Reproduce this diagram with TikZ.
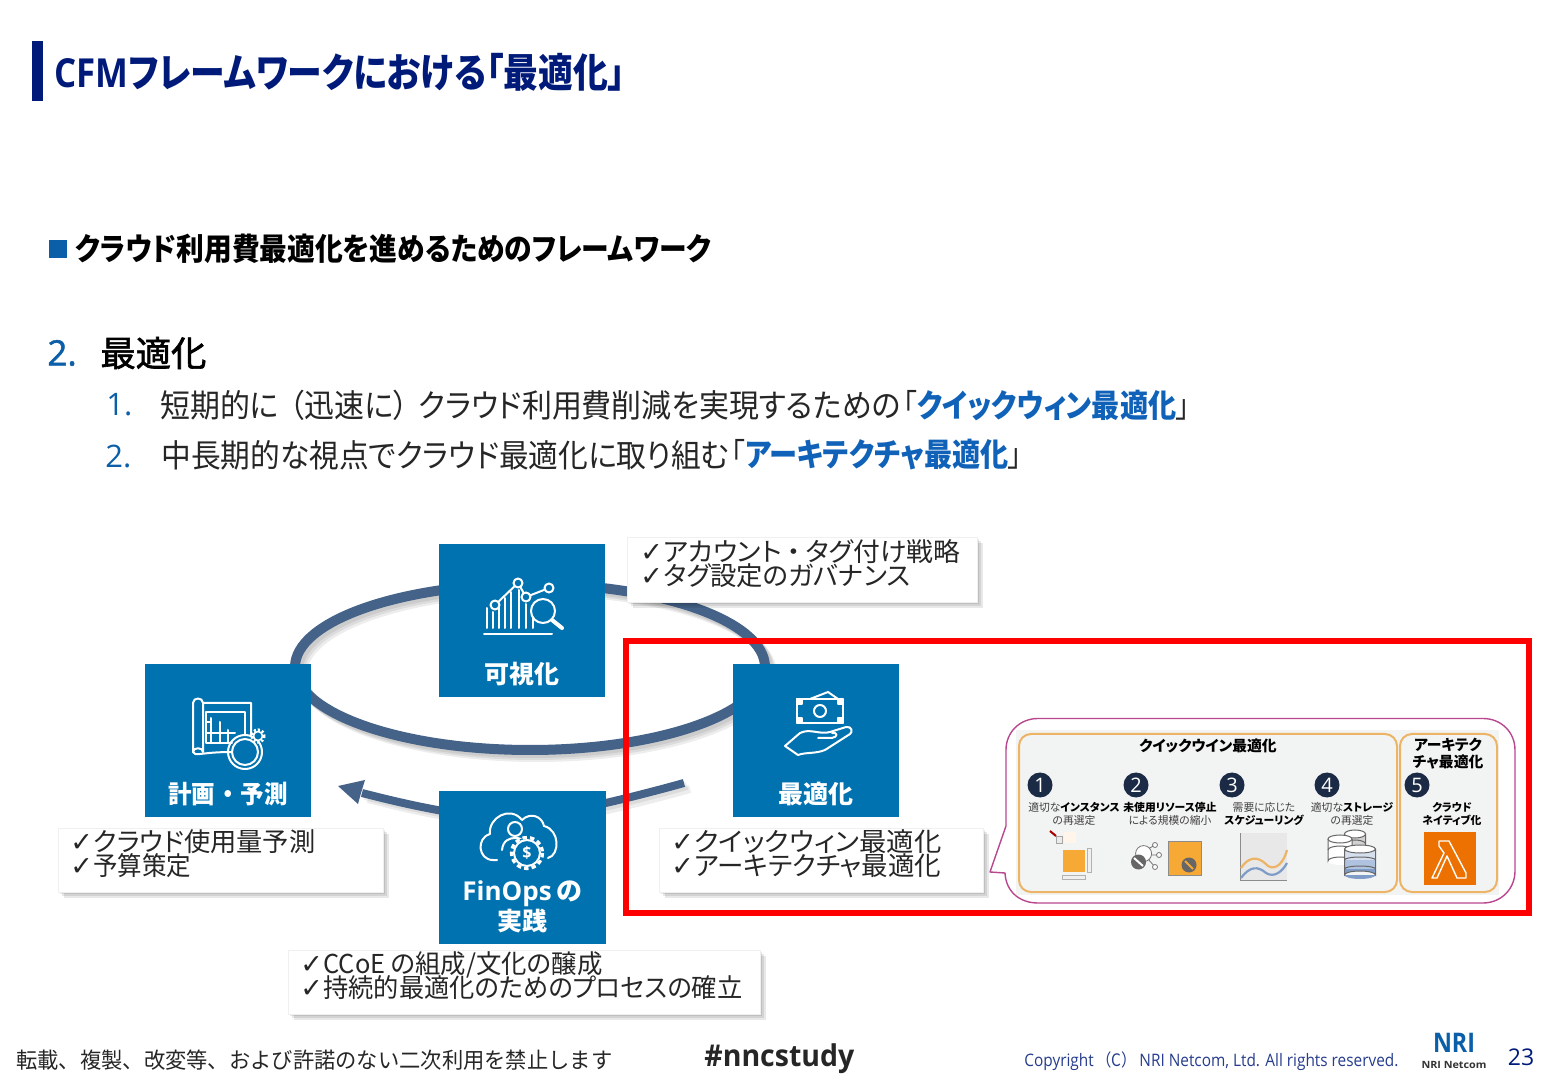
\documentclass[tikz,border=0pt]{standalone}
\usepackage{graphicx}
\usepackage{fontspec}
\setmainfont{Noto Sans CJK JP}[RawFeature=+palt]
\newfontfamily\nop{Noto Sans CJK JP}
\newfontfamily\mb{Noto Sans CJK JP}[RawFeature=+palt,FakeBold=1.8]
\newfontfamily\lat{Open Sans}
\newfontfamily\latm{Open Sans}[FakeBold=1.5]
\newfontfamily\chk{DejaVu Sans}
\usetikzlibrary{calc}
\definecolor{navy}{HTML}{001A7A}
\definecolor{boxblue}{HTML}{0072B0}
\definecolor{headblue}{HTML}{0F62B8}
\definecolor{numblue}{HTML}{0B5EA8}
\definecolor{ringblue}{HTML}{456389}
\definecolor{orangeline}{HTML}{EDB466}
\definecolor{orangefill}{HTML}{F7A935}
\definecolor{bubble}{HTML}{B9478F}
\definecolor{dark}{HTML}{1C2B45}
\definecolor{panel}{HTML}{F2F3F3}
\definecolor{lamb}{HTML}{ED7100}
\definecolor{dbone}{HTML}{D5DFEE}
\definecolor{dbtwo}{HTML}{AFC3E0}
\definecolor{dbthree}{HTML}{7F9CC8}
\newdimen\pxu \pxu=0.5pt
\newcommand{\fs}[1]{\fontsize{#1}{#1}\selectfont}
\newcommand{\fw}[2]{\resizebox{#1\pxu}{\height}{#2}}
\newcommand{\ck}{\makebox[11.5pt][l]{\chk\fs{13.5}✓}}
\newcommand{\dbcyl}[6]{% cx, top, rx, height, col1, col2
  \fill[#5] (#1-#3,#2) rectangle (#1+#3,#2+#4);
  \fill[#5] (#1,#2+#4) ellipse [x radius=#3,y radius=4];
  \draw[black!60,line width=.5pt] (#1-#3,#2) -- (#1-#3,#2+#4) arc [start angle=180,end angle=360,x radius=#3,y radius=4] -- (#1+#3,#2);
  \draw[black!60,line width=.5pt] (#1-#3,#2+#4/2) arc [start angle=180,end angle=360,x radius=#3,y radius=4];
  \draw[black!60,line width=.5pt,fill=#6] (#1,#2) ellipse [x radius=#3,y radius=4];
}
\tikzset{
  txt/.style={inner sep=0pt,anchor=west,text=black},
  ctxt/.style={inner sep=0pt,anchor=center},
  stage/.style={fill=boxblue,draw=none},
  stagetxt/.style={ctxt,text=white,font=\bfseries\fs{12.5}},
  note/.style={fill=white,draw=black!6,line width=.3pt},
  notetxt/.style={txt,text=black!85,font=\fs{13}},
  ringline/.style={draw=ringblue,line width=5pt},
  ringshade/.style={draw=black,line width=5pt,opacity=.07},
  ico/.style={draw=white,line width=1pt,line join=round,line cap=round},
  mini/.style={ctxt,text=black!75,font=\fs{5.4}},
  minib/.style={ctxt,text=black,font=\bfseries\fs{7.4}},
  numdot/.style={circle,fill=dark,text=white,inner sep=0pt,minimum size=12.5pt,font=\lat\fs{10}},
  orangebox/.style={draw=orangeline,line width=1pt,rounded corners=6pt},
}
\begin{document}
\begin{tikzpicture}[x=0.5pt,y=-0.5pt]
\useasboundingbox (0,0) rectangle (1560,1080);
\fill[white] (0,0) rectangle (1560,1080);
% title
\fill[navy] (32,41) rectangle (43,101);
\node[txt,text=navy,font=\bfseries\fs{20}] (title) at (54,72) {\fw{571}{{\lat\bfseries CFM}フレームワークにおける「最適化」}};
\fill[numblue] (49,240) rectangle (67,258);
\node[txt,font=\bfseries\fs{15.5}] (sub) at (75,249) {\fw{636}{クラウド利用費最適化を進めるためのフレームワーク}};
\node[txt,text=numblue,font=\latm\fs{17.5}] (n2) at (47,353) {2.};
\node[txt,font=\mb\fs{17.5}] (h2) at (100,353) {\fw{106}{最適化}};
\node[txt,text=numblue,font=\lat\fs{15.5}] (n21) at (106,405) {1.};
\node[txt,text=black!85,font=\fs{16}] (l1) at (160,405) {\fw{740}{短期的に\hspace{.35em}（迅速に）\hspace{.35em}クラウド利用費削減を実現するための}};
\node[txt,text=black!85,font=\fs{16}] (l1b) at (903,405) {\fw{287}{「\textcolor{headblue}{\bfseries クイックウィン最適化}」}};
\node[txt,text=numblue,font=\lat\fs{15.5}] (n22) at (105,456) {2.};
\node[txt,text=black!85,font=\fs{16}] (l2) at (161,455) {\fw{568}{中長期的な視点でクラウド最適化に取り組む}};
\node[txt,text=black!85,font=\fs{16}] (l2b) at (731,455) {\fw{291}{「\textcolor{headblue}{\bfseries アーキテクチャ最適化}」}};
% ring shadow and ring
\foreach \d in {3,5,7}{
  \draw[ringshade,shift={(\d*0.5pt,-\d*0.5pt)}] (530,667) ellipse [x radius=235,y radius=83];
}
\draw[ringline] (530,667) ellipse [x radius=235,y radius=83];
% arrow
\foreach \d in {3,6}{
  \draw[ringshade,line width=4pt,shift={(\d*0.5pt,-\d*0.5pt)}] (684,783) .. controls (630,798) and (560,815) .. (522,818) .. controls (480,820) and (420,808) .. (362,793);
}
\draw[ringline,line width=4pt] (684,783) .. controls (630,798) and (560,815) .. (522,818) .. controls (480,820) and (420,808) .. (362,793);
\fill[ringblue] (338,786) -- (365,780) -- (361,793) -- (358,804) -- cycle;
% stages
\node[stage,minimum width=83pt,minimum height=76.5pt,inner sep=0pt] (vis) at (522,620.5) {};
\node[stage,minimum width=83pt,minimum height=76.5pt,inner sep=0pt] (plan) at (228,740.5) {};
\node[stage,minimum width=83pt,minimum height=76.5pt,inner sep=0pt] (opt) at (816,740.5) {};
\node[stage,minimum width=83.5pt,minimum height=76.5pt,inner sep=0pt] (fin) at (522.5,867.5) {};
\node[stagetxt] (tvis) at (522,674) {可視化};
\node[stagetxt] (tplan) at (228,794) {\fw{120}{計画\hspace{.3em}・\hspace{.3em}予測}};
\node[stagetxt] (topt) at (816,794) {最適化};
\node[stagetxt,font=\bfseries\lat\fs{13}] (tfin) at (522,894) {FinOps\,{\rmfamily\bfseries の}};
\node[stagetxt] (tfin2) at (522,921) {実践};
% icon: visual
\draw[ico] (484,634) -- (552,634);
\draw[ico] (487,628) -- (487,608) (493,628) -- (493,612) (499,628) -- (499,604) (505,628) -- (505,598) (511,628) -- (511,592) (519,628) -- (519,590) (526,628) -- (526,604) (533,628) -- (533,612);
\draw[ico] (495,605) -- (518,583) -- (526,597) -- (549,588);
\foreach \p/\r in {495/605,518/583,526/597,549/588}{\filldraw[ico,fill=boxblue] (\p,\r) circle (4.5);}
\filldraw[ico,fill=boxblue] (543,611) circle (12);
\draw[draw=white,line width=2pt,line cap=round] (552,620) -- (562,628);
% icon: plan
\draw[ico] (203,703) -- (251,703) -- (251,735) (203,703) .. controls (203,697) and (193,697) .. (193,703) -- (193,752) .. controls (193,747) and (203,747) .. (203,752) -- (203,703);
\draw[ico] (193,752) .. controls (195,757) and (200,752) .. (232,752);
\draw[ico] (206,712) -- (245,712) -- (245,735) (206,712) -- (206,743) -- (232,743);
\draw[ico] (206,722) -- (210,722) (206,733) -- (235,733) (211,718) -- (211,743) (220,722) -- (220,743) (228,730) -- (228,743);
\draw[ico] (245,752) circle (13);
\draw[ico] (245,752) circle (17);
\draw[draw=white,line width=1.6pt,dash pattern=on 1pt off 1pt] (258,736) circle (6);
\filldraw[ico,fill=boxblue,line width=.8pt] (258,736) circle (4.5);
% icon: money
\draw[ico] (797,699) -- (843,699) -- (843,723) -- (797,723) -- cycle;
\draw[ico] (820,711) circle (6);
\draw[ico] (810,699) -- (828,692) -- (838,699);
\draw[ico,fill=white] (797,699) rectangle (802,704) (838,699) rectangle (843,704) (797,718) rectangle (802,723) (838,718) rectangle (843,723);
\draw[ico] (785,746) -- (800,733) .. controls (810,728) and (820,735) .. (830,732) -- (846,727) .. controls (852,726) and (853,732) .. (850,734) -- (825,750) .. controls (815,754) and (806,752) .. (798,755) -- cycle;
\draw[ico] (818,738) -- (832,738) .. controls (838,737) and (838,732) .. (832,733);
% icon: finops
\draw[ico] (497,860) -- (493,860) .. controls (478,860) and (476,838) .. (490,834) .. controls (488,818) and (510,805) .. (522,820) .. controls (530,812) and (542,816) .. (544,826) .. controls (560,830) and (560,855) .. (548,858);
\draw[ico] (515,829) circle (7);
\draw[ico] (502,850) .. controls (503,840) and (510,838) .. (515,838) .. controls (520,838) and (522,839) .. (525,842);
\draw[draw=white,line width=1.6pt,dash pattern=on 2.2pt off 1.6pt,fill=boxblue] (527,853) circle (15.5);
\filldraw[ico,fill=boxblue] (527,853) circle (13);
\node[ctxt,text=white,font=\bfseries\lat\fs{8}] (dollar) at (527,853) {\$};
% notes with shadow
\foreach \d in {2,4,6}{
  \fill[black,opacity=.09] (58+\d,828+\d) rectangle (383+\d,892+\d);
  \fill[black,opacity=.09] (627+\d,537+\d) rectangle (977+\d,602+\d);
  \fill[black,opacity=.09] (659+\d,828+\d) rectangle (983+\d,892+\d);
  \fill[black,opacity=.09] (288+\d,950+\d) rectangle (760+\d,1014+\d);
}
\node[note,minimum width=162.5pt,minimum height=32pt,inner sep=0pt] (nplan) at (220.5,860) {};
\node[note,minimum width=175pt,minimum height=32.5pt,inner sep=0pt] (nvis) at (802,569.5) {};
\node[note,minimum width=162pt,minimum height=32pt,inner sep=0pt] (nopt) at (821,860) {};
\node[note,minimum width=236pt,minimum height=32pt,inner sep=0pt] (nfin) at (524,982) {};
\node[notetxt] (p1) at (70,842) {\ck\fw{222}{クラウド使用量予測}};
\node[notetxt] (p2) at (70,866) {\ck\fw{98}{予算策定}};
\node[notetxt] (v1) at (640,552) {\ck\fw{297}{アカウント\hspace{.2em}・\hspace{.2em}タグ付け戦略}};
\node[notetxt] (v2) at (640,576) {\ck\fw{247}{タグ設定のガバナンス}};
\node[notetxt] (o1) at (671,842) {\ck\fw{247}{クイックウィン最適化}};
\node[notetxt] (o2) at (671,866) {\ck\fw{247}{アーキテクチャ最適化}};
\node[notetxt] (f1) at (300,965) {\ck\fw{279}{CCoE の組成/文化の醸成}};
\node[notetxt] (f2) at (300,988) {\ck\fw{419}{持続的最適化のためのプロセスの確立}};
% bubble
\draw[bubble,line width=.7pt,fill=white,line join=round] (1006,826) -- (1006,750) .. controls (1006,732) and (1020,718.5) .. (1038,718.5) -- (1483,718.5) .. controls (1501,718.5) and (1515,732) .. (1515,750) -- (1515,871) .. controls (1515,889) and (1501,903) .. (1483,903) -- (1038,903) .. controls (1020,903) and (1006,892) .. (1005,873) -- (990,872) -- cycle;
% inset
\fill[panel] (1016,730) rectangle (1499,895);
\draw[orangebox] (1019,734) rectangle (1397,892);
\draw[orangebox] (1400,734) rectangle (1497,892);
\node[minib] (q) at (1208,746) {クイックウイン最適化};
\node[minib] (a1) at (1448,745) {アーキテク};
\node[minib] (a2) at (1448,762) {チャ最適化};
\node[numdot] (c1) at (1040,785) {1};
\node[numdot] (c2) at (1136,785) {2};
\node[numdot] (c3) at (1232,785) {3};
\node[numdot] (c4) at (1327,785) {4};
\node[numdot] (c5) at (1417,785) {5};
\node[mini] (m11) at (1074,807) {適切な\textbf{\textcolor{black}{インスタンス}}};
\node[mini] (m12) at (1074,820) {の再選定};
\node[mini] (m21) at (1170,807) {\textbf{\textcolor{black}{未使用リソース停止}}};
\node[mini] (m22) at (1170,820) {による規模の縮小};
\node[mini] (m31) at (1264,807) {需要に応じた};
\node[mini] (m32) at (1264,820) {\textbf{\textcolor{black}{スケジューリング}}};
\node[mini] (m41) at (1352,807) {適切な\textbf{\textcolor{black}{ストレージ}}};
\node[mini] (m42) at (1352,820) {の再選定};
\node[mini,font=\bfseries\fs{5.4},text=black] (m51) at (1452,807) {クラウド};
\node[mini,font=\bfseries\fs{5.4},text=black] (m52) at (1452,820) {ネイティブ化};
% mini icon 1
\fill[orangefill] (1062.5,850) rectangle (1084.5,872);
\draw[black!30,line width=.4pt,fill=black!6] (1087,848.5) rectangle (1091,872);
\draw[black!30,line width=.4pt,fill=black!6] (1062,875.5) rectangle (1085,879);
\fill[orange!8] (1064,832) rectangle (1076,843);
\draw[black!35,line width=.4pt,fill=black!8] (1056,836) rectangle (1062,843);
\draw[red!65!black,line width=1pt] (1050,831) -- (1056,836);
% mini icon 2
\draw[black!55,line width=.4pt] (1148,849) -- (1155,845) (1150,855) -- (1159,855) (1148,859) -- (1155,867);
\draw[black!55,line width=.4pt,fill=white] (1143.6,853.6) circle (8);
\foreach \p/\q in {1155/845,1159/855,1155/867}{\draw[black!55,line width=.4pt,fill=white] (\p,\q) circle (2.5);}
\fill[black!60] (1138.5,862) circle (7.5);
\draw[white,line width=1pt] (1134,858) -- (1143,866);
\draw[black!45,line width=.4pt,fill=orangefill] (1168,841) rectangle (1201,875.5);
\fill[black!60] (1189,865) circle (7.5);
\draw[orangefill,line width=1pt] (1185,861) -- (1193,869);
% mini icon 3
\fill[black!9] (1240.5,833) rectangle (1287,880);
\draw[black!45,line width=.5pt] (1240.5,833) -- (1240.5,880) -- (1287,880);
\draw[orangeline,line width=1.1pt] (1241,868) .. controls (1252,852) and (1262,860) .. (1268,866) .. controls (1276,871) and (1284,862) .. (1287,850);
\draw[dbthree,line width=1.1pt] (1241,878) .. controls (1250,866) and (1258,866) .. (1266,873) .. controls (1274,878) and (1282,872) .. (1287,863);
% mini icon 4
\dbcyl{1355}{834}{10.5}{20}{black!18}{white}
\dbcyl{1340}{839}{12}{22}{white}{white}
\fill[dbone] (1344.5,849) rectangle (1375.5,860);
\fill[dbtwo] (1344.5,860) rectangle (1375.5,869);
\fill[dbthree] (1344.5,869) rectangle (1375.5,875) (1360,875) ellipse [x radius=15.5,y radius=4];
\draw[black!60,line width=.5pt] (1344.5,860) arc [start angle=180,end angle=360,x radius=15.5,y radius=3];
\draw[black!60,line width=.5pt] (1344.5,869) arc [start angle=180,end angle=360,x radius=15.5,y radius=3];
\draw[black!60,line width=.5pt] (1344.5,849) -- (1344.5,875) arc [start angle=180,end angle=360,x radius=15.5,y radius=4] -- (1375.5,849);
\draw[black!60,line width=.5pt,fill=white] (1360,849) ellipse [x radius=15.5,y radius=4];
% lambda
\fill[lamb] (1424,832) rectangle (1476,885);
\draw[white,line width=.7pt,line join=round] (1439,841) -- (1449,841) -- (1466,873) -- (1466,878) -- (1457,878) -- (1447,856) -- (1437,878) -- (1432,878) -- (1444,853) -- (1439,846) -- cycle;
% red frame
\draw[red,line width=3pt] (626,641) rectangle (1529,913);
% footer
\node[txt,text=black!85,font=\nop\fs{11}] (foot) at (16,1060) {\fw{596}{転載、複製、改変等、および許諾のない二次利用を禁止します}};
\node[txt,text=black!85,font=\bfseries\lat\fs{15}] (tag) at (704,1059) {\fw{150}{\#nncstudy}};
\node[txt,text=navy!85,font=\lat\fs{8.6}] (copy) at (1024,1061) {\fw{374}{Copyright\,{\nop（C）}\,NRI Netcom, Ltd. All rights reserved.}};
\node[ctxt,text=numblue,font=\bfseries\lat\fs{13.5}] (logo) at (1454,1043) {\fw{42}{NRI}};
\node[ctxt,text=black!80,font=\bfseries\lat\fs{5}] (logo2) at (1454,1065) {\fw{65}{NRI Netcom}};
\node[ctxt,text=navy,font=\lat\fs{11.5}] (page) at (1521,1057) {23};
\end{tikzpicture}
\end{document}
